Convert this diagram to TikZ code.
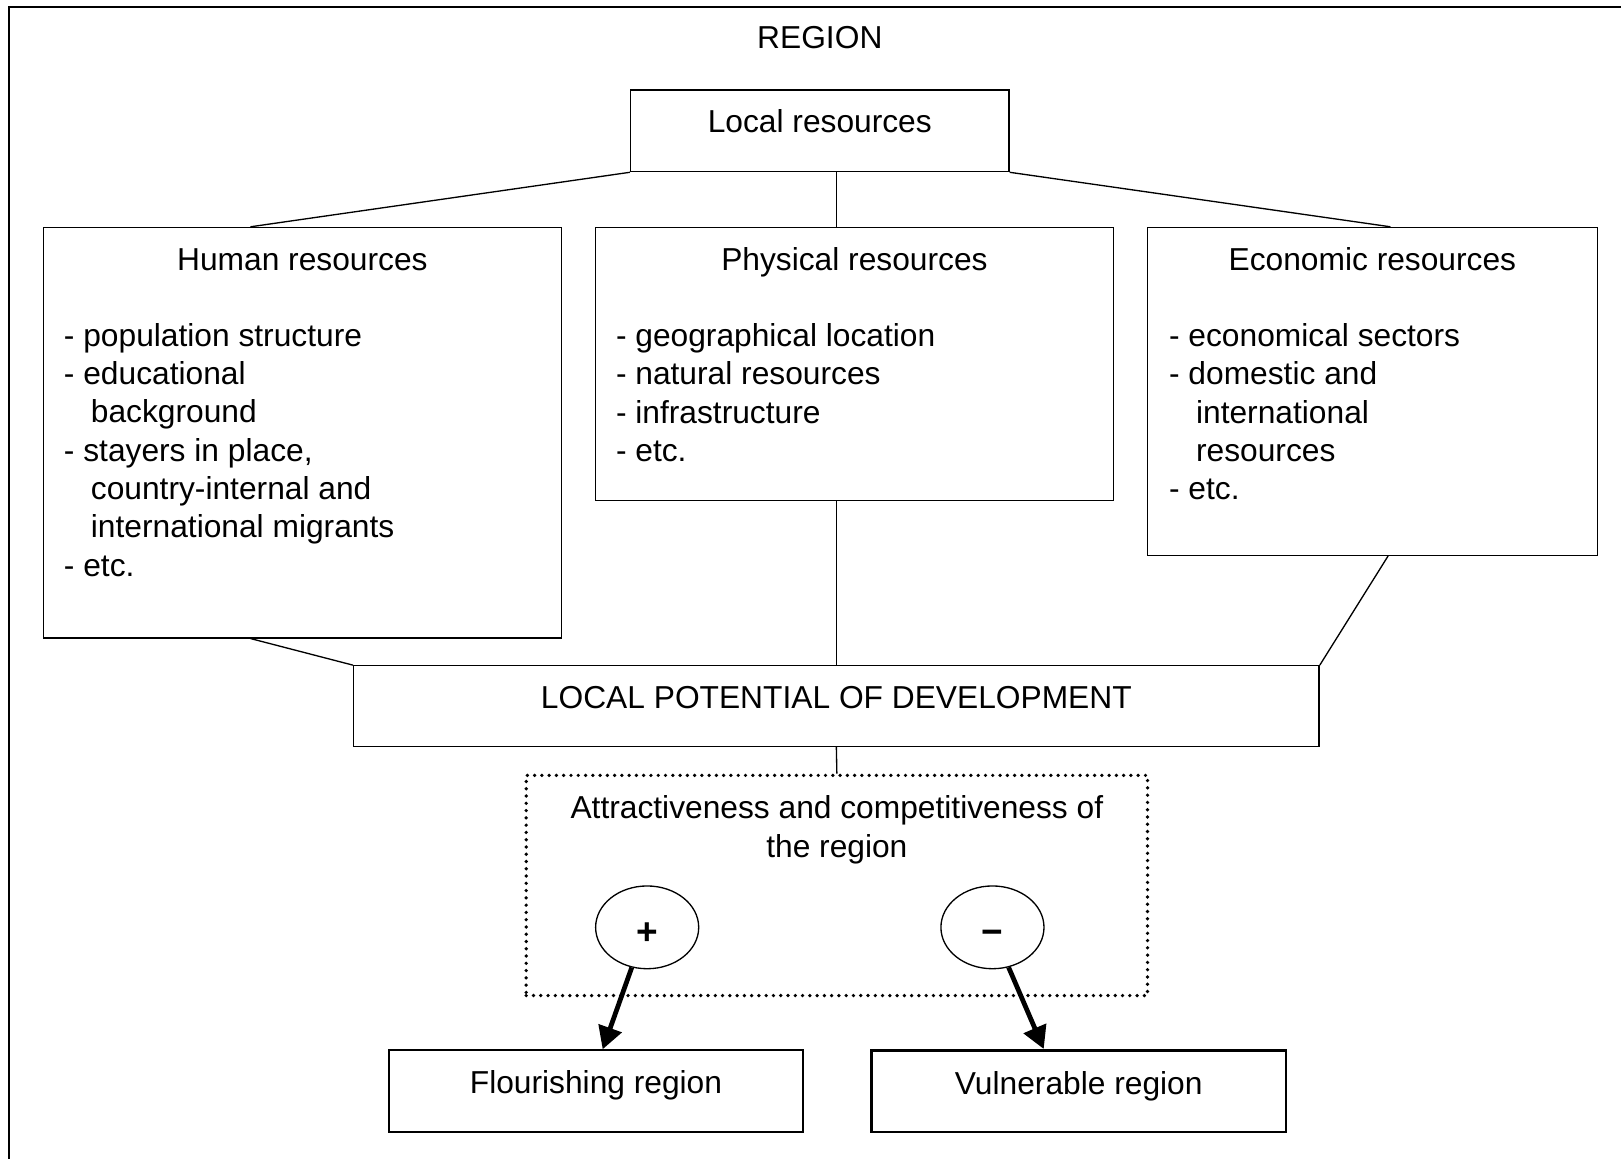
\documentclass[tikz,border=0pt]{standalone}
\usepackage{fontspec}
\setmainfont{Liberation Sans}
\usetikzlibrary{calc,fit,shapes.geometric,arrows.meta}
\tikzset{
	box/.style={draw, line width=0.5pt, inner sep=0pt},
	dotbox/.style={draw, line width=1.4pt, line cap=round, dash pattern=on 0pt off 2.75pt, inner sep=0pt},
	sign/.style={draw, ellipse, line width=0.5pt, minimum width=1.37cm, minimum height=1.1cm, inner sep=0pt, text height=13pt, text depth=0pt, font=\fontsize{14}{16}\selectfont\bfseries},
	txt/.style={inner sep=0pt, anchor=base, font=\fontsize{12}{14.5}\selectfont},
	list/.style={txt, anchor=base west, align=left},
	link/.style={line width=0.5pt},
	push/.style={line width=1.8pt, -{Triangle[length=8.5pt,width=9pt]}}
}

\begin{document}
\begin{tikzpicture}[x=1.374cm, y=-1.374cm]
		%%%%% START %%%%%
		\useasboundingbox (0,0) rectangle (15.68,11.21);
		
		\draw[line width=0.8pt] (0.087,11.21) |- (15.68,0.068);
		\node[txt] (region) at (7.93,0.47) {REGION};
		
		\node[box, fit={(6.10,0.87) (9.76,1.66)}] (local) {};
		\node[txt] (localtxt) at ($(local.north)+(0,0.42)$) {Local resources};
		
		% lists sit on the baseline of their last line
		\node[box, fit={(0.42,2.20) (5.43,6.17)}] (human) {};
		\node[txt] (humantitle) at ($(human.north)+(0,0.42)$) {Human resources};
		\node[list] (humanlist) at ($(human.north west)+(0.20,3.38)$) {- population structure\\- educational\\\hspace*{10.2pt}background\\- stayers in place,\\\hspace*{10.2pt}country-internal and\\\hspace*{10.2pt}international migrants\\- etc.};
		
		\node[box, fit={(5.76,2.20) (10.77,4.84)}] (phys) {};
		\node[txt] (phystitle) at ($(phys.north)+(0,0.42)$) {Physical resources};
		\node[list] (physlist) at ($(phys.north west)+(0.20,2.27)$) {- geographical location\\- natural resources\\- infrastructure\\- etc.};
		
		\node[box, fit={(11.10,2.20) (15.45,5.37)}] (econ) {};
		\node[txt] (econtitle) at ($(econ.north)+(0,0.42)$) {Economic resources};
		\node[list] (econlist) at ($(econ.north west)+(0.21,2.64)$) {- economical sectors\\- domestic and\\\hspace*{10.2pt}international\\\hspace*{10.2pt}resources\\- etc.};
		
		\node[box, fit={(3.42,6.44) (12.76,7.22)}] (lpd) {};
		\node[txt] (lpdtxt) at ($(lpd.north)+(0,0.42)$) {LOCAL POTENTIAL OF DEVELOPMENT};
		
		\node[dotbox, fit={(5.09,7.50) (11.10,9.63)}] (attr) {};
		\node[txt, align=center] (attrtxt) at ($(attr.north)+(0,0.81)$) {Attractiveness and competitiveness of\\the region};
		\node[sign] (plus) at (6.26,8.97) {+};
		\node[sign] (minus) at (9.60,8.97) {−};
		
		\node[box, line width=0.8pt, fit={(3.76,10.16) (7.77,10.95)}] (flour) {};
		\node[txt] (flourtxt) at ($(flour.north)+(0,0.43)$) {Flourishing region};
		\node[box, line width=1.05pt, fit={(8.43,10.16) (12.44,10.95)}] (vul) {};
		\node[txt] (vultxt) at ($(vul.north)+(0,0.44)$) {Vulnerable region};
		
		\draw[link] (local.south west) -- ($(human.north west)!0.4!(human.north east)$);
		\draw[link] (local.south -| lpd.north) -- (phys.north -| lpd.north);
		\draw[link] (local.south east) -- ($(econ.north west)!0.54!(econ.north east)$);
		\draw[link] ($(human.south west)!0.4!(human.south east)$) -- (lpd.north west);
		\draw[link] (phys.south -| lpd.north) -- (lpd.north);
		\draw[link] ($(econ.south west)!0.535!(econ.south east)$) -- (lpd.north east);
		\draw[link] (lpd.south) -- (attr.north);
		
		\draw[push] (plus.249) -- ($(flour.north west)!0.516!(flour.north east)$);
		\draw[push] (minus.292) -- ($(vul.north west)!0.416!(vul.north east)$);
		%%%%% END %%%%%
\end{tikzpicture}
\end{document}
